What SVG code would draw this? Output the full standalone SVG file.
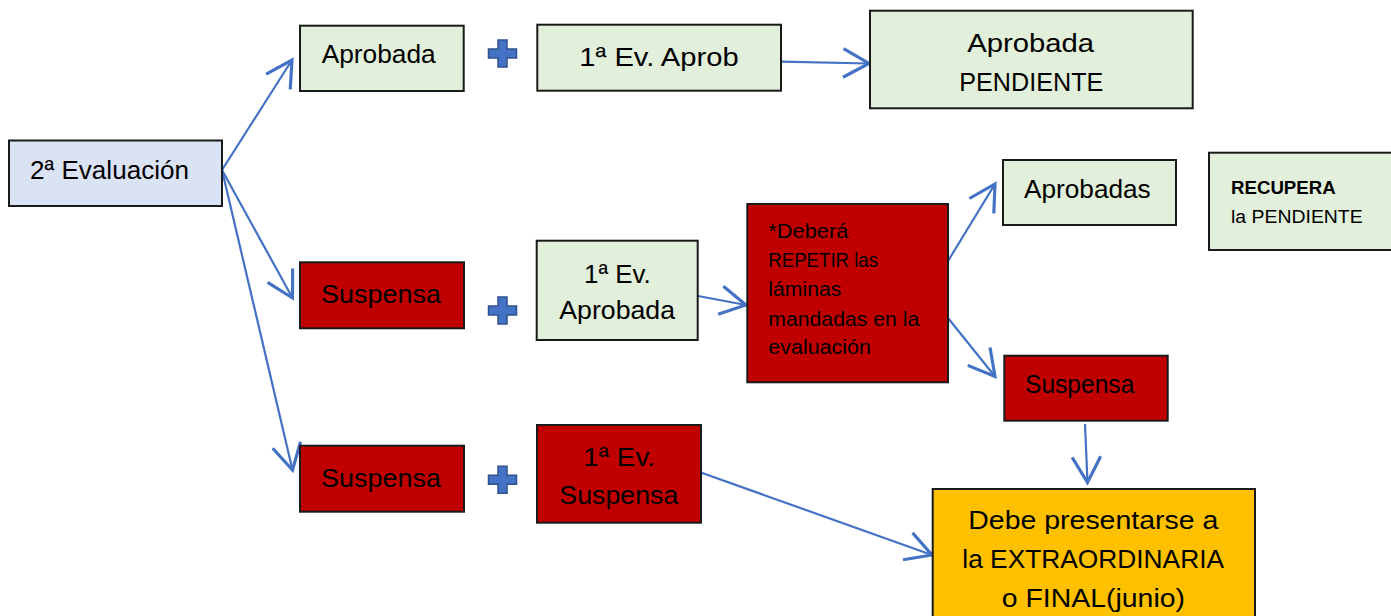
<svg xmlns="http://www.w3.org/2000/svg" width="1391" height="616" viewBox="0 0 1391 616">
<style>
  .box { stroke: #1a1a1a; stroke-width: 2; }
  .blue { fill: #dae3f3; }
  .green { fill: #e2efda; }
  .red { fill: #c00000; }
  .orange { fill: #ffc000; }
  text { font-family: "Liberation Sans", Arial, sans-serif; fill: #000; }
  .t26 { font-size: 26.5px; }
  .t24 { font-size: 25px; }
  .t20 { font-size: 19.5px; }
  .t18 { font-size: 17.5px; }
  .bold { font-weight: bold; }
  .conn { stroke: #4472c4; stroke-width: 2.2; fill: none; }
  .plus { fill: #4472c4; stroke: #2f528f; stroke-width: 1.5; }
</style>
<defs>
  <marker id="arr" markerUnits="userSpaceOnUse" markerWidth="40" markerHeight="40" viewBox="-22 -14 26 28" refX="0" refY="0" orient="auto">
    <path d="M-18,-10 L0,0 L-18,10" fill="none" stroke="#4472c4" stroke-width="2.2" stroke-linejoin="miter"/>
  </marker>
  <path id="plusShape" d="M-4.5,-13.5 h9 v9 h9.5 v9 h-9.5 v9 h-9 v-9 h-9.5 v-9 h9.5 z"/>
</defs>

<g id="connectors">
  <line class="conn" x1="222" y1="170" x2="292" y2="60" marker-end="url(#arr)"/>
  <line class="conn" x1="222" y1="170" x2="292.5" y2="298" marker-end="url(#arr)"/>
  <line class="conn" x1="222" y1="170" x2="292.5" y2="470" marker-end="url(#arr)"/>
  <line class="conn" x1="781" y1="61.7" x2="869" y2="63.5" marker-end="url(#arr)"/>
  <line class="conn" x1="698" y1="296" x2="746" y2="305" marker-end="url(#arr)"/>
  <line class="conn" x1="948" y1="261" x2="995" y2="184" marker-end="url(#arr)"/>
  <line class="conn" x1="948" y1="318" x2="995" y2="376.5" marker-end="url(#arr)"/>
  <line class="conn" x1="1085" y1="424" x2="1087.5" y2="482.5" marker-end="url(#arr)"/>
  <line class="conn" x1="701.5" y1="472.7" x2="932" y2="555" marker-end="url(#arr)"/>
</g>

<g id="plus-signs">
  <use href="#plusShape" class="plus" x="502.5" y="53.5"/>
  <use href="#plusShape" class="plus" x="502.5" y="310.5"/>
  <use href="#plusShape" class="plus" x="502.5" y="479.7"/>
</g>

<g id="n-segunda">
  <rect class="box blue" x="9" y="140.5" width="213" height="65.5"/>
  <text class="t24" x="30" y="179.3" textLength="159" lengthAdjust="spacingAndGlyphs">2ª Evaluación</text>
</g>

<g id="n-aprobada">
  <rect class="box green" x="300" y="25.7" width="163.7" height="65.3"/>
  <text class="t24" x="321.7" y="63.3" textLength="114" lengthAdjust="spacingAndGlyphs">Aprobada</text>
</g>

<g id="n-1ev-aprob">
  <rect class="box green" x="537.3" y="24.7" width="243.7" height="66"/>
  <text class="t24" x="579.3" y="65.7" textLength="159.4" lengthAdjust="spacingAndGlyphs">1ª Ev. Aprob</text>
</g>

<g id="n-aprobada-pendiente">
  <rect class="box green" x="870" y="10.7" width="322.7" height="97.6"/>
  <text class="t26" x="967.3" y="51.7" textLength="126.7" lengthAdjust="spacingAndGlyphs">Aprobada</text>
  <text class="t26" x="959.3" y="90.7" textLength="144" lengthAdjust="spacingAndGlyphs">PENDIENTE</text>
</g>

<g id="n-suspensa-1">
  <rect class="box red" x="300" y="262.3" width="164" height="66"/>
  <text class="t26" x="321" y="303.3" textLength="120" lengthAdjust="spacingAndGlyphs">Suspensa</text>
</g>

<g id="n-1ev-aprobada">
  <rect class="box green" x="536.7" y="240.7" width="161" height="99.3"/>
  <text class="t26" x="584" y="283.3" textLength="66.7" lengthAdjust="spacingAndGlyphs">1ª Ev.</text>
  <text class="t26" x="559.3" y="319.3" textLength="115.7" lengthAdjust="spacingAndGlyphs">Aprobada</text>
</g>

<g id="n-repetir">
  <rect class="box red" x="747.3" y="204" width="200.7" height="178.3"/>
  <text class="t20" x="768.3" y="238.3" textLength="80" lengthAdjust="spacingAndGlyphs">*Deberá</text>
  <text class="t20" x="768.3" y="267.3" textLength="109.7" lengthAdjust="spacingAndGlyphs">REPETIR las</text>
  <text class="t20" x="768.3" y="295.7" textLength="73" lengthAdjust="spacingAndGlyphs">láminas</text>
  <text class="t20" x="768.3" y="325.7" textLength="151" lengthAdjust="spacingAndGlyphs">mandadas en la</text>
  <text class="t20" x="768.3" y="354" textLength="102.7" lengthAdjust="spacingAndGlyphs">evaluación</text>
</g>

<g id="n-aprobadas">
  <rect class="box green" x="1003" y="160" width="173" height="65"/>
  <text class="t26" x="1024" y="198.3" textLength="126.7" lengthAdjust="spacingAndGlyphs">Aprobadas</text>
</g>

<g id="n-recupera">
  <rect class="box green" x="1209" y="152.7" width="184" height="97.3"/>
  <text class="t18 bold" x="1231" y="194.3" textLength="104.7" lengthAdjust="spacingAndGlyphs">RECUPERA</text>
  <text class="t18" x="1231" y="223.3" textLength="131.7" lengthAdjust="spacingAndGlyphs">la PENDIENTE</text>
</g>

<g id="n-suspensa-right">
  <rect class="box red" x="1004.3" y="355.7" width="163.4" height="65"/>
  <text class="t26" x="1025" y="393.3" textLength="109.3" lengthAdjust="spacingAndGlyphs">Suspensa</text>
</g>

<g id="n-suspensa-2">
  <rect class="box red" x="300" y="445.7" width="164" height="66"/>
  <text class="t26" x="321" y="486.7" textLength="120" lengthAdjust="spacingAndGlyphs">Suspensa</text>
</g>

<g id="n-1ev-suspensa">
  <rect class="box red" x="537" y="425" width="164" height="97.7"/>
  <text class="t26" x="583.3" y="465.7" textLength="71.7" lengthAdjust="spacingAndGlyphs">1ª Ev.</text>
  <text class="t26" x="559.3" y="504" textLength="119" lengthAdjust="spacingAndGlyphs">Suspensa</text>
</g>

<g id="n-extraordinaria">
  <rect class="box orange" x="932.7" y="489" width="322.3" height="140"/>
  <text class="t26" x="968.3" y="529" textLength="250" lengthAdjust="spacingAndGlyphs">Debe presentarse a</text>
  <text class="t26" x="962.3" y="568.3" textLength="261.7" lengthAdjust="spacingAndGlyphs">la EXTRAORDINARIA</text>
  <text class="t26" x="1001.7" y="606.7" textLength="183.3" lengthAdjust="spacingAndGlyphs">o FINAL(junio)</text>
</g>
</svg>
